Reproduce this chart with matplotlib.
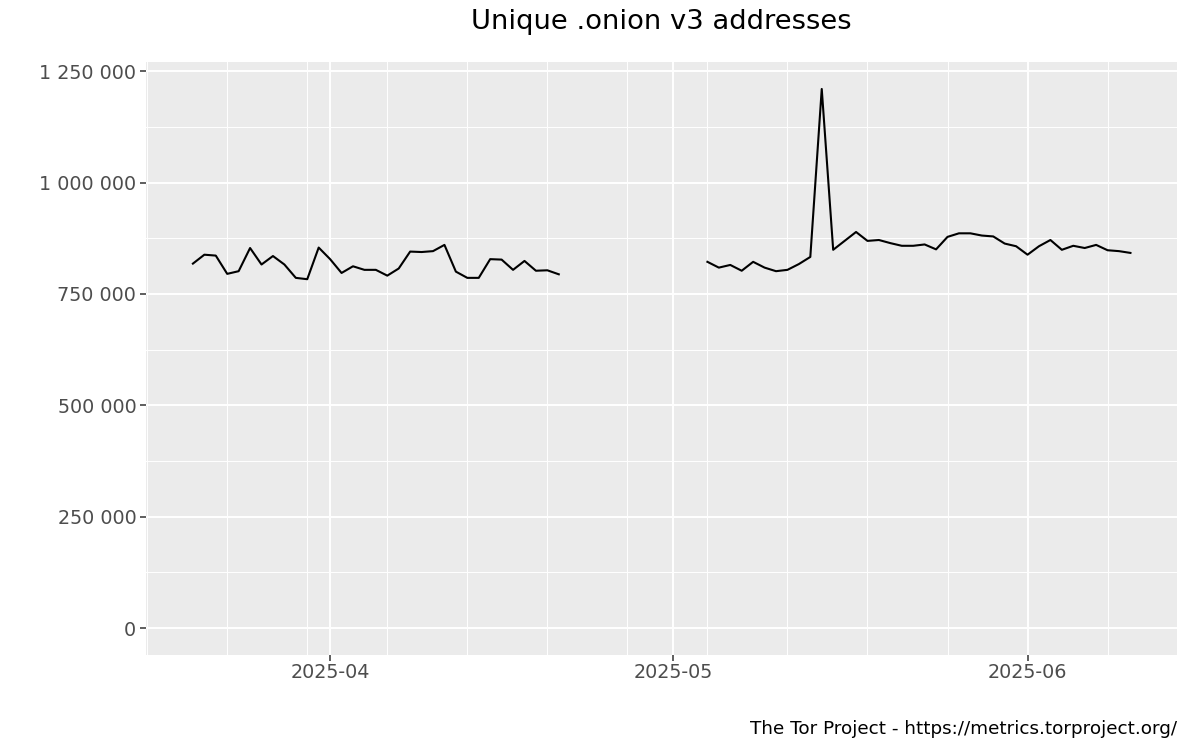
import numpy as np
import pandas as pd
import matplotlib
matplotlib.use("Agg")
import matplotlib.pyplot as plt
import matplotlib.dates as mdates
from matplotlib.ticker import FuncFormatter, MultipleLocator

# daily values, two stretches with a gap in between
dates_a = pd.date_range("2025-03-20", "2025-04-21", freq="D")
onions_a = [818, 838, 836, 795, 801, 853, 816, 835, 816, 786, 783,
            854, 828, 797, 812, 804, 804, 791, 807, 845, 844, 846,
            860, 800, 786, 786, 828, 827, 804, 824, 802, 803, 794]

dates_b = pd.date_range("2025-05-04", "2025-06-10", freq="D")
onions_b = [822, 809, 815, 802, 822, 809, 801, 804, 817, 833, 1210,
            849, 869, 889, 869, 871, 864, 858, 858, 861, 850, 878,
            886, 886, 881, 879, 863, 857, 838, 857, 871, 849, 858,
            853, 860, 848, 846, 842]

title = "Unique .onion v3 addresses"
caption = "The Tor Project - https://metrics.torproject.org/"

fig = plt.figure(figsize=(12, 7.5), dpi=100)
ax = fig.add_axes([0.1217, 0.1267, 0.8594, 0.7906])
ax.set_facecolor("#EBEBEB")
for s in ax.spines.values():
    s.set_visible(False)

ax.plot(dates_a, np.array(onions_a) * 1000, color="black", lw=1.5, zorder=3)
ax.plot(dates_b, np.array(onions_b) * 1000, color="black", lw=1.5, zorder=3)

# ggplot-like expansion
x0, x1 = mdates.date2num(dates_a[0]), mdates.date2num(dates_b[-1])
pad = (x1 - x0) * 0.05
ax.set_xlim(x0 - pad, x1 + pad)
ymax = max(onions_b) * 1000
ax.set_ylim(-0.05 * ymax, ymax * 1.05)

ax.xaxis.set_major_locator(mdates.MonthLocator())
ax.xaxis.set_major_formatter(mdates.DateFormatter("%Y-%m"))
ax.xaxis.set_minor_locator(mdates.WeekdayLocator(byweekday=mdates.SU))
ax.yaxis.set_major_locator(MultipleLocator(250000))
ax.yaxis.set_minor_locator(MultipleLocator(125000))
ax.yaxis.set_major_formatter(FuncFormatter(lambda v, p: f"{int(v):,}".replace(",", " ")))

ax.grid(which="major", color="white", lw=1.4, zorder=0)
ax.grid(which="minor", color="white", lw=0.7, zorder=0)
ax.set_axisbelow(True)
ax.tick_params(which="major", length=4, width=1.1, color="#333333",
               labelcolor="#4D4D4D", labelsize=13.8, pad=3)
ax.tick_params(axis="x", which="major", pad=2)
ax.tick_params(which="minor", length=0)

fig.text(0.5512, 0.971, title, ha="center", va="center", fontsize=19.7, color="black")
fig.text(0.981, 0.028, caption, ha="right", va="center", fontsize=13.2, color="black")

plt.savefig("out.png", dpi=100)
